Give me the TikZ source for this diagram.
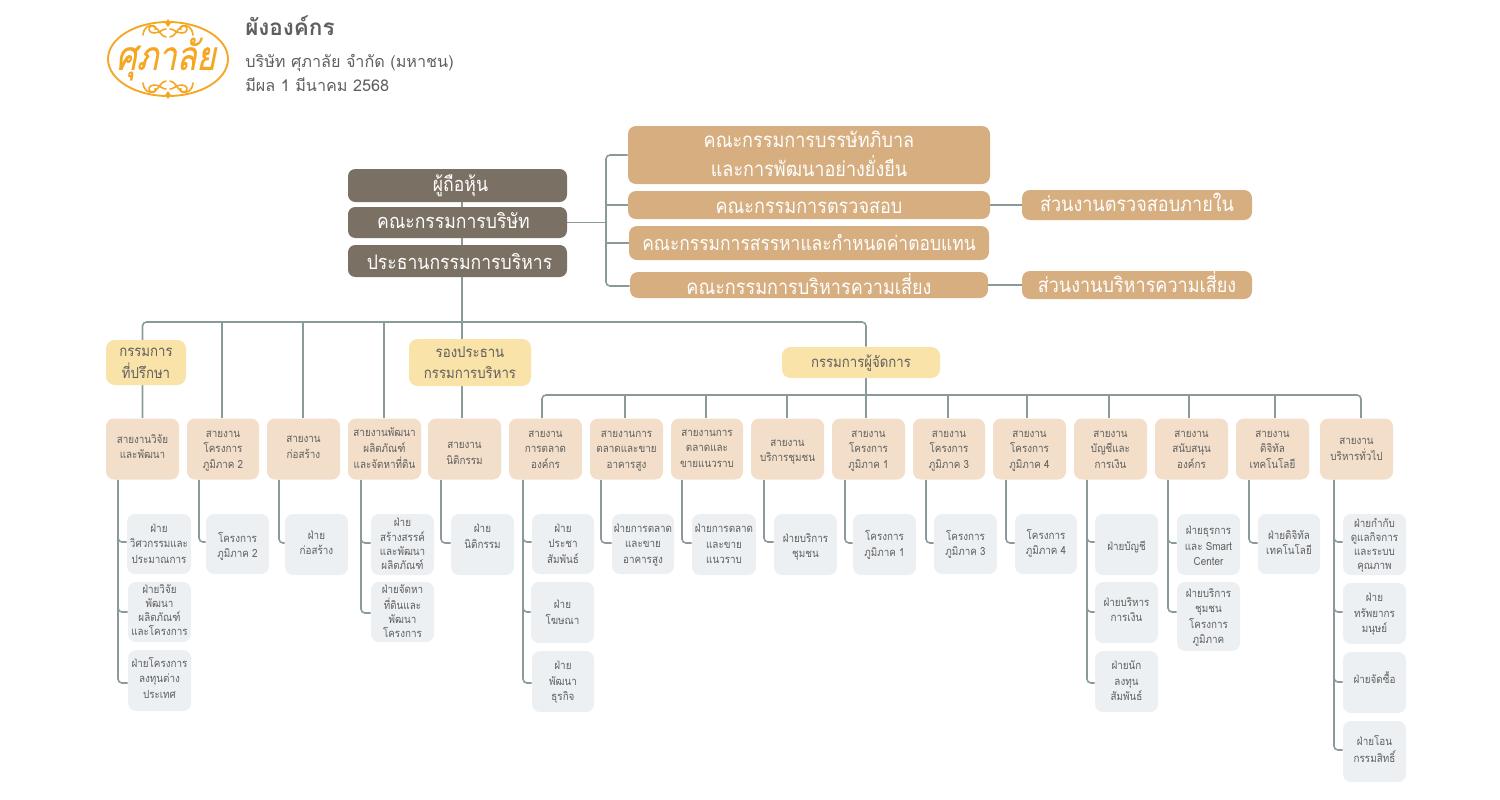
\documentclass[tikz,border=0pt]{standalone}
\usepackage{fontspec}
\usepackage{array}
\usetikzlibrary{backgrounds}
\newfontfamily\thaifont[Script=Thai,FakeStretch=0.88]{Loma}
\newfontfamily\headfont[Script=Thai]{Loma}
\newfontfamily\logofont[Script=Thai,FakeBold=0.6]{Loma}
\definecolor{linec}{HTML}{8A9A9A}
\definecolor{darkb}{HTML}{7A7164}
\definecolor{beigeb}{HTML}{D6AE7F}
\definecolor{yelb}{HTML}{FAE3A9}
\definecolor{peachb}{HTML}{F3DFC9}
\definecolor{grayb}{HTML}{EDF0F3}
\definecolor{txtc}{HTML}{5F5F5F}
\definecolor{logoc}{HTML}{F5A623}
% sizes in reference pixels
\newcommand\fs[2]{\fontsize{\dimexpr #1pt*3/4\relax}{\dimexpr #2pt*3/4\relax}\selectfont}
\newcommand\tbl[2]{\raisebox{\dimexpr #1pt*3/4-0.3em\relax}[0pt][0pt]{\begin{tabular}{@{}c@{}}#2\end{tabular}}}
\newcommand\bx[8]{%
  \node[#1,minimum width={(#5-#3)*0.75pt},minimum height={(#6-#4)*0.75pt}]
    (#2) at ({(#3+#5)/2},{(#4+#6)/2}) {\tbl{#7}{#8}};}
\newcommand\pe[5]{\bx{peachbox}{#1}{#2}{418.5}{#3}{479.5}{#4}{#5}}
\newcommand\bra[4]{\draw[conn] (#1.south -| #2,0) |- (#3.west |- 0,#4);}
\newcommand\dropA[2]{\draw[conn] (busA -| #2,0) -- (#1.north -| #2,0);}
\newcommand\dropB[2]{\draw[conn] (busB -| #2,0) -- (#1.north -| #2,0);}
\newcommand\curl{%
  \draw[logoline] (2,-30) .. controls (6,-30) and (8,-26) .. (14,-26)
     .. controls (19,-26) and (21,-31) .. (17,-33) .. controls (14,-34) and (11,-32) .. (13,-29.5);
  \draw[logoline] (2,-22) .. controls (8,-23) and (8,-29) .. (14,-32.5)
     .. controls (18,-34.5) and (24,-33) .. (25,-24);
}
\tikzset{
  conn/.style={draw=linec,line width=1.2pt,rounded corners=3pt},
  logoline/.style={draw=logoc,line width=1.2pt,line cap=round},
  boxbase/.style={inner sep=0pt,rectangle,font=\thaifont},
  darkbox/.style={boxbase,fill=darkb,text=white,rounded corners=5.5pt,font=\thaifont\fs{20}{24}},
  beigebox/.style={boxbase,fill=beigeb,text=white,rounded corners=6pt,font=\thaifont\fs{20.5}{28}},
  yelbox/.style={boxbase,fill=yelb,text=txtc,rounded corners=6.5pt,font=\thaifont\fs{15}{21}},
  peachbox/.style={boxbase,fill=peachb,text=txtc,rounded corners=6pt,font=\thaifont\fs{11.2}{15.5}},
  graybox/.style={boxbase,fill=grayb,text=txtc,rounded corners=6pt,font=\thaifont\fs{11.2}{15.5}},
  grayfour/.style={graybox,font=\thaifont\fs{11.2}{14}},
  header/.style={inner sep=0pt,anchor=west,text=txtc},
}
\begin{document}
\begin{tikzpicture}[x=0.75pt,y=-0.75pt]
\useasboundingbox (0,0) rectangle (1500,800);
% ---- header
\node[header,font=\headfont\bfseries\fs{22.5}{26}] (title) at (245,26) {ผังองค์กร};
\node[header,font=\headfont\fs{16.2}{20}] (co) at (245,63) {บริษัท ศุภาลัย จำกัด (มหาชน)};
\node[header,font=\headfont\fs{16.2}{20}] (eff) at (245,85) {มีผล 1 มีนาคม 2568};
% ---- logo
\begin{scope}[shift={(168,59)}]
  \draw[draw=logoc,line width=1.4pt] (0,0) ellipse [x radius=60,y radius=37];
  \curl
  \begin{scope}[xscale=-1]\curl\end{scope}
  \begin{scope}[yscale=-1]\curl\begin{scope}[xscale=-1]\curl\end{scope}\end{scope}
  \fill[logoc] (0,-40) -- (3,-36) -- (0,-32) -- (-3,-36) -- cycle;
  \fill[logoc] (0,40) -- (3,36) -- (0,32) -- (-3,36) -- cycle;
  \node[inner sep=0pt,text=logoc,xslant=0.2,xscale=1.05,yscale=1.3,font=\logofont\fs{31}{31}] (logotext) at (0,0) {ศุภาลัย};
\end{scope}
% ---- top block
\bx{darkbox}{sh}{348}{169}{567}{202}{0}{\hspace*{4.5pt}ผู้ถือหุ้น}
\bx{darkbox}{bd}{348}{207}{567}{238}{0}{คณะกรรมการบริษัท\hspace*{6pt}}
\bx{darkbox}{ch}{348}{245}{567}{277}{-2}{\hspace*{3pt}ประธานกรรมการบริหาร}
\bx{beigebox}{gv}{628}{126}{990}{184}{0}{คณะกรรมการบรรษัทภิบาล\\และการพัฒนาอย่างยั่งยืน}
\bx{beigebox}{au}{628}{191}{990}{219}{-2}{คณะกรรมการตรวจสอบ}
\bx{beigebox,font=\thaifont\fs{19.8}{28}}{nm}{629}{226}{989}{260}{-1}{คณะกรรมการสรรหาและกำหนดค่าตอบแทน}
\bx{beigebox}{rk}{630}{272}{988}{298}{-2}{คณะกรรมการบริหารความเสี่ยง}
\bx{beigebox}{ia}{1022}{190}{1252}{220}{0}{ส่วนงานตรวจสอบภายใน}
\bx{beigebox}{ra}{1022}{271}{1252}{299}{0}{ส่วนงานบริหารความเสี่ยง}
% ---- yellow
\bx{yelbox}{adv}{106}{340}{186}{385}{0}{กรรมการ\\ที่ปรึกษา}
\bx{yelbox}{vc}{409}{339}{531}{386}{0}{รองประธาน\\กรรมการบริหาร}
\bx{yelbox}{gm}{782}{347}{940}{378}{0}{กรรมการผู้จัดการ}
% ---- peach
\pe{pa}{106}{179}{2}{สายงานวิจัย\\และพัฒนา}
\pe{pb}{187}{259}{0}{สายงาน\\โครงการ\\ภูมิภาค 2}
\pe{pc}{267}{340}{2.5}{สายงาน\\ก่อสร้าง}
\pe{pd}{348}{421}{0}{สายงานพัฒนา\\ผลิตภัณฑ์\\และจัดหาที่ดิน}
\pe{pe}{428}{501}{-3.5}{สายงาน\\นิติกรรม}
\pe{pf}{509}{582}{0}{สายงาน\\การตลาด\\องค์กร}
\pe{pg}{590}{663}{0}{สายงานการ\\ตลาดและขาย\\อาคารสูง}
\pe{ph}{671}{743}{1}{สายงานการ\\ตลาดและ\\ขายแนวราบ}
\pe{pi}{751}{824}{-1}{สายงาน\\บริการชุมชน}
\pe{pj}{832}{905}{0}{สายงาน\\โครงการ\\ภูมิภาค 1}
\pe{pk}{913}{985}{0}{สายงาน\\โครงการ\\ภูมิภาค 3}
\pe{pl}{993}{1066}{0}{สายงาน\\โครงการ\\ภูมิภาค 4}
\pe{pm}{1074}{1147}{0}{สายงาน\\บัญชีและ\\การเงิน}
\pe{pn}{1155}{1228}{0}{สายงาน\\สนับสนุน\\องค์กร}
\pe{po}{1236}{1309}{0}{สายงาน\\ดิจิทัล\\เทคโนโลยี}
\pe{pp}{1320}{1393}{0}{สายงาน\\บริหารทั่วไป}
% ---- gray
\bx{graybox}{a1}{127}{514}{191}{574}{0}{ฝ่าย\\วิศวกรรมและ\\ประมาณการ}
\bx{grayfour}{a2}{128}{582}{191}{642}{1}{ฝ่ายวิจัย\\พัฒนา\\ผลิตภัณฑ์\\และโครงการ}
\bx{graybox}{a3}{128}{650}{191}{711}{1.5}{ฝ่ายโครงการ\\ลงทุนต่าง\\ประเทศ}
\bx{graybox}{b1}{206}{514}{269}{574}{-2}{โครงการ\\ภูมิภาค 2}
\bx{graybox}{c1}{285}{514}{348}{575}{1.5}{ฝ่าย\\ก่อสร้าง}
\bx{grayfour}{d1}{371}{514}{434}{575}{0}{ฝ่าย\\สร้างสรรค์\\และพัฒนา\\ผลิตภัณฑ์}
\bx{grayfour}{d2}{371}{582}{434}{642}{0}{ฝ่ายจัดหา\\ที่ดินและ\\พัฒนา\\โครงการ}
\bx{graybox}{e1}{451}{514}{514}{575}{8}{ฝ่าย\\นิติกรรม}
\bx{graybox}{f1}{532}{514}{594}{574}{0}{ฝ่าย\\ประชา\\สัมพันธ์}
\bx{graybox}{f2}{531}{582}{594}{643}{0}{ฝ่าย\\โฆษณา}
\bx{graybox}{f3}{532}{651}{594}{712}{0}{ฝ่าย\\พัฒนา\\ธุรกิจ}
\bx{graybox}{g1}{612}{514}{674}{574}{0}{ฝ่ายการตลาด\\และขาย\\อาคารสูง}
\bx{graybox}{h1}{692}{514}{756}{575}{0}{ฝ่ายการตลาด\\และขาย\\แนวราบ}
\bx{graybox}{i1}{774}{514}{837}{575}{-1.5}{ฝ่ายบริการ\\ชุมชน}
\bx{graybox}{j1}{853}{514}{916}{575}{0}{โครงการ\\ภูมิภาค 1}
\bx{graybox}{k1}{934}{514}{997}{574}{0}{โครงการ\\ภูมิภาค 3}
\bx{graybox}{l1}{1015}{514}{1077}{574}{1}{โครงการ\\ภูมิภาค 4}
\bx{graybox}{m1}{1095}{514}{1158}{575}{-2.5}{ฝ่ายบัญชี}
\bx{graybox}{m2}{1095}{582}{1158}{643}{2.5}{ฝ่ายบริหาร\\การเงิน}
\bx{graybox}{m3}{1095}{651}{1158}{712}{0}{ฝ่ายนัก\\ลงทุน\\สัมพันธ์}
\bx{graybox}{n1}{1177}{514}{1240}{575}{-2}{ฝ่ายธุรการ\\และ Smart\\Center}
\bx{graybox}{n2}{1177}{582}{1240}{651}{0}{ฝ่ายบริการ\\ชุมชน\\โครงการ\\ภูมิภาค}
\bx{graybox}{o1}{1258}{514}{1320}{574}{1}{ฝ่ายดิจิทัล\\เทคโนโลยี}
\bx{grayfour}{p1}{1343}{514}{1406}{575}{0}{ฝ่ายกำกับ\\ดูแลกิจการ\\และระบบ\\คุณภาพ}
\bx{graybox}{p2}{1343}{583}{1406}{644}{0}{ฝ่าย\\ทรัพยากร\\มนุษย์}
\bx{graybox}{p3}{1343}{652}{1406}{713}{3.5}{ฝ่ายจัดซื้อ}
\bx{graybox}{p4}{1343}{721}{1406}{782}{1.5}{ฝ่ายโอน\\กรรมสิทธิ์}
% ---- connectors
\coordinate (busA) at (0,322);
\coordinate (busB) at (0,395);
\coordinate (busT) at (606,222);
\begin{scope}[on background layer]
  \draw[conn] (sh.south -| 462,0) -- (bd.north -| 462,0);
  \draw[conn] (bd.south -| 462,0) -- (ch.north -| 462,0);
  \draw[conn] (ch.south -| 462,0) -- (pe.north -| 462,0);
  \draw[conn] (bd.east) -- (busT |- bd.east);
  \draw[conn] (gv.west |- 0,155) -| (busT) |- (rk.west |- 0,286);
  \draw[conn] (busT |- au.west) -- (au.west);
  \draw[conn] (busT |- nm.west) -- (nm.west);
  \draw[conn] (au.east) -- (ia.west);
  \draw[conn] (rk.east) -- (ra.west);
  \draw[conn] (pa.north) |- (busA -| 866,0) -- (gm.north -| 866,0);
  \dropA{pb}{222} \dropA{pc}{303} \dropA{pd}{384}
  \draw[conn] (gm.south -| 866,0) -- (pj.north -| 866,0);
  \draw[conn] (pf.north -| 542,0) |- (busB -| 1100,0) -| (pp.north -| 1361,0);
  \dropB{pg}{625} \dropB{ph}{706} \dropB{pi}{787} \dropB{pk}{948} \dropB{pl}{1027}
  \dropB{pm}{1109} \dropB{pn}{1189} \dropB{po}{1275}
  \bra{pa}{118}{a1}{542}\bra{pa}{118}{a2}{612}\bra{pa}{118}{a3}{683}
  \bra{pb}{199}{b1}{542}\bra{pc}{279}{c1}{543}
  \bra{pd}{361}{d1}{543}\bra{pd}{361}{d2}{613}
  \bra{pe}{441}{e1}{543}
  \bra{pf}{523}{f1}{542}\bra{pf}{523}{f2}{612}\bra{pf}{523}{f3}{683}
  \bra{pg}{601}{g1}{543}\bra{ph}{682}{h1}{543}\bra{pi}{764}{i1}{542}
  \bra{pj}{845}{j1}{543}\bra{pk}{926}{k1}{543}\bra{pl}{1006}{l1}{543}
  \bra{pm}{1087}{m1}{542}\bra{pm}{1087}{m2}{612}\bra{pm}{1087}{m3}{683}
  \bra{pn}{1168}{n1}{543}\bra{pn}{1168}{n2}{612}
  \bra{po}{1249}{o1}{543}
  \bra{pp}{1334}{p1}{542}\bra{pp}{1334}{p2}{612}\bra{pp}{1334}{p3}{682}\bra{pp}{1334}{p4}{750}
\end{scope}
\end{tikzpicture}
\end{document}
